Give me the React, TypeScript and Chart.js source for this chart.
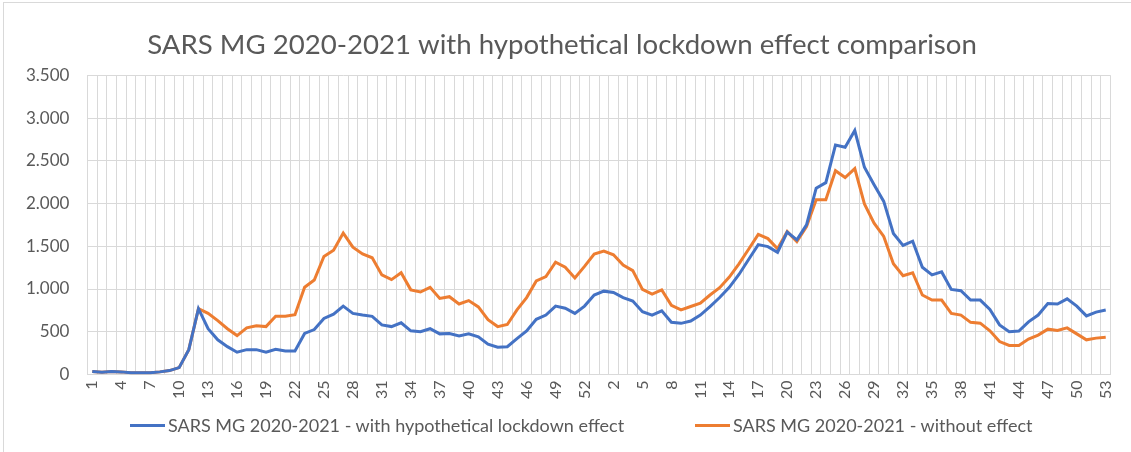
import React, { useEffect, useRef } from "react";
import { Chart, registerables } from "chart.js";

Chart.register(...registerables);

const weekLabels: string[] = [
  "1","2","3","4","5","6","7","8","9","10","11","12","13","14","15","16","17","18","19","20",
  "21","22","23","24","25","26","27","28","29","30","31","32","33","34","35","36","37","38","39","40",
  "41","42","43","44","45","46","47","48","49","50","51","52","53",
  "1","2","3","4","5","6","7","8","9","10","11","12","13","14","15","16","17","18","19","20",
  "21","22","23","24","25","26","27","28","29","30","31","32","33","34","35","36","37","38","39","40",
  "41","42","43","44","45","46","47","48","49","50","51","52","53",
];

const withLockdown: number[] = [
  35, 25, 35, 30, 20, 20, 20, 30, 45, 80, 290, 770, 535, 405, 325, 260, 290, 290, 260, 295,
  275, 275, 480, 525, 655, 705, 800, 715, 695, 680, 580, 560, 605, 510, 500, 535, 475, 480, 450, 475,
  440, 355, 318, 325, 420, 510, 645, 695, 800, 775, 715, 800, 930,
  975, 960, 900, 860, 735, 695, 745, 610, 598, 625, 695, 795, 900, 1020, 1170, 1345, 1520, 1496,
  1430, 1665, 1575, 1750, 2180, 2245, 2685, 2660, 2855, 2425, 2220, 2025, 1650, 1510, 1560, 1255, 1165, 1200, 995,
  980, 870, 870, 760, 580, 500, 508, 615, 695, 830, 825, 885, 800, 685, 730, 755,
];

const withoutEffect: number[] = [
  35, 25, 35, 30, 20, 20, 20, 30, 45, 80, 290, 770, 715, 630, 535, 455, 545, 570, 560, 680,
  680, 700, 1020, 1105, 1380, 1455, 1655, 1490, 1410, 1365, 1165, 1110, 1190, 990, 965, 1020, 890, 910, 825, 865,
  790, 640, 560, 585, 755, 900, 1095, 1145, 1315, 1255, 1130, 1265, 1410,
  1445, 1400, 1280, 1215, 995, 940, 990, 810, 755, 795, 835, 930, 1015, 1140, 1295, 1465, 1640, 1590,
  1470, 1672, 1555, 1730, 2045, 2045, 2385, 2305, 2410, 1995, 1770, 1615, 1295, 1155, 1190, 930, 870, 870, 715,
  695, 610, 600, 510, 385, 340, 340, 415, 460, 530, 515, 545, 475, 405, 425, 435,
];

const seriesNames: string[] = [
  "SARS MG 2020-2021 - with hypothetical lockdown effect",
  "SARS MG 2020-2021 - without effect",
];

const seriesColors: string[] = ["#4472C4", "#ED7D31"];

const titleText = "SARS MG 2020-2021 with hypothetical lockdown effect comparison";

function fmt(v: number): string {
  if (v >= 1000) {
    const th = Math.floor(v / 1000);
    const rest = String(v % 1000).padStart(3, "0");
    return th + "." + rest;
  }
  return String(v);
}

const textColor = "#595959";
const gridColor = "#d9d9d9";

export default function App() {
  const ref = useRef<HTMLCanvasElement | null>(null);

  useEffect(() => {
    document.body.style.margin = "0";
    const ctx = ref.current;
    if (!ctx) return;
    const chart = new Chart(ctx, {
      type: "line",
      data: {
        labels: weekLabels,
        datasets: [
          {
            label: seriesNames[0],
            data: withLockdown,
            borderColor: seriesColors[0],
            backgroundColor: seriesColors[0],
            borderWidth: 3,
            pointRadius: 0,
            tension: 0,
          },
          {
            label: seriesNames[1],
            data: withoutEffect,
            borderColor: seriesColors[1],
            backgroundColor: seriesColors[1],
            borderWidth: 3,
            pointRadius: 0,
            tension: 0,
          },
        ],
      },
      options: {
        animation: false,
        responsive: true,
        maintainAspectRatio: false,
        layout: { padding: { left: 8, right: 15, top: 0, bottom: 47 } },
        plugins: {
          title: {
            display: true,
            text: titleText,
            color: textColor,
            font: { family: "Lato", size: 27.6, weight: "normal" },
            padding: { top: 29, bottom: 13.3 },
          },
          legend: { display: false },
          tooltip: { enabled: false },
        },
        scales: {
          x: {
            offset: true,
            grid: { display: true, offset: true, color: gridColor, lineWidth: 1, drawTicks: false },
            border: { color: gridColor },
            ticks: {
              autoSkip: false,
              maxRotation: 90,
              minRotation: 90,
              padding: 6,
              color: textColor,
              font: { family: "Lato", size: 16 },
              callback: (_v: any, i: number) => (i % 3 === 0 ? weekLabels[i] : ""),
            },
          },
          y: {
            min: 0,
            max: 3500,
            grid: { color: gridColor, lineWidth: 1, drawTicks: false },
            border: { color: gridColor },
            ticks: {
              stepSize: 500,
              padding: 18,
              color: textColor,
              font: { family: "Lato", size: 17 },
              callback: (v: any) => fmt(Number(v)),
            },
          },
        },
      },
    });
    return () => chart.destroy();
  }, []);

  const legendItems = [
    { name: seriesNames[0], color: seriesColors[0], left: 130 },
    { name: seriesNames[1], color: seriesColors[1], left: 695 },
  ];

  return (
    <div style={{ position: "fixed", left: 0, top: 0, width: 1131, height: 452, background: "#fff" }}>
      <canvas ref={ref} />
      <div
        style={{
          position: "absolute",
          left: 3,
          top: 2,
          width: 1135,
          height: 460,
          borderLeft: "1px solid #d9d9d9",
          borderTop: "1px solid #d9d9d9",
          pointerEvents: "none",
        }}
      />
      {legendItems.map((it) => (
        <div
          key={it.name}
          style={{
            position: "absolute",
            left: it.left,
            top: 413,
            height: 24,
            display: "flex",
            alignItems: "center",
            fontFamily: "Lato",
            fontSize: 18,
            color: textColor,
            whiteSpace: "nowrap",
          }}
        >
          <span style={{ display: "inline-block", width: 35, height: 3, background: it.color, marginRight: 3 }} />
          <span>{it.name}</span>
        </div>
      ))}
    </div>
  );
}
